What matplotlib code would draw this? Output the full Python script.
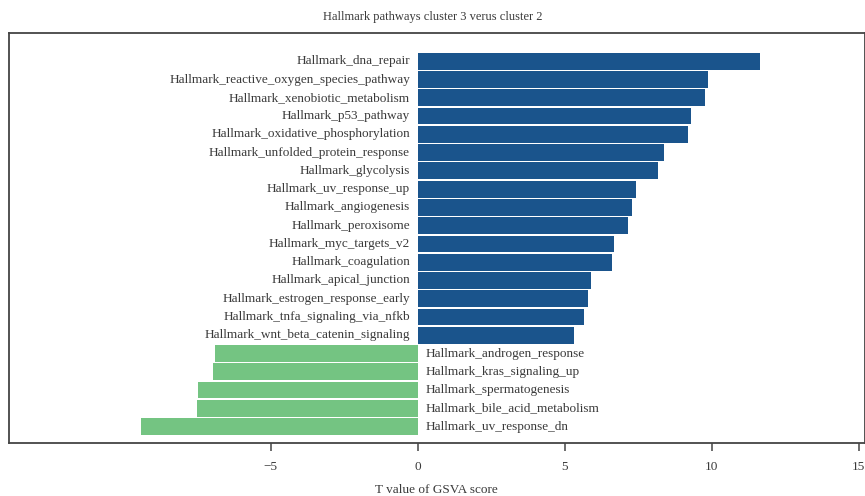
import numpy as np
import matplotlib
matplotlib.use("Agg")
import matplotlib.pyplot as plt

# GSVA t values, cluster 3 vs cluster 2
pathways = [
    "Hallmark_dna_repair",
    "Hallmark_reactive_oxygen_species_pathway",
    "Hallmark_xenobiotic_metabolism",
    "Hallmark_p53_pathway",
    "Hallmark_oxidative_phosphorylation",
    "Hallmark_unfolded_protein_response",
    "Hallmark_glycolysis",
    "Hallmark_uv_response_up",
    "Hallmark_angiogenesis",
    "Hallmark_peroxisome",
    "Hallmark_myc_targets_v2",
    "Hallmark_coagulation",
    "Hallmark_apical_junction",
    "Hallmark_estrogen_response_early",
    "Hallmark_tnfa_signaling_via_nfkb",
    "Hallmark_wnt_beta_catenin_signaling",
    "Hallmark_androgen_response",
    "Hallmark_kras_signaling_up",
    "Hallmark_spermatogenesis",
    "Hallmark_bile_acid_metabolism",
    "Hallmark_uv_response_dn",
]
t_values = [11.64, 9.87, 9.77, 9.30, 9.19, 8.38, 8.17, 7.43, 7.29, 7.16,
            6.68, 6.61, 5.90, 5.80, 5.66, 5.32,
            -6.89, -6.95, -7.46, -7.50, -9.40]
xticks = [-5, 0, 5, 10, 15]

plt.rcParams['font.family'] = ['Liberation Serif', 'DejaVu Serif']
txt_col = '#3a3a3a'

fig = plt.figure(figsize=(8.65, 4.96), dpi=100)
ax = fig.add_axes([9/865, 53/496, 855.5/865, 410/496])

y = np.arange(len(pathways))
vals = np.array(t_values)
colors = np.where(vals > 0, '#1a548c', '#74c482')
ax.barh(y, vals, height=0.92, color=colors)

# positive pathway names sit left of zero, negative ones to the right
for yi, name, v in zip(y, pathways, vals):
    if v > 0:
        ax.annotate(name, xy=(0, yi), xytext=(-5.5, 0), textcoords='offset points',
                    ha='right', va='center', fontsize=9.5, color=txt_col)
    else:
        ax.annotate(name, xy=(0, yi), xytext=(5.5, 0), textcoords='offset points',
                    ha='left', va='center', fontsize=9.5, color=txt_col)

ax.set_xlim(-13.9, 15.2)
ax.set_ylim(20.9, -1.55)
ax.set_yticks([])
ax.set_xticks(xticks)
ax.set_xticklabels(['\u22125', '0', '5', '10', '15'])
ax.tick_params(axis='x', length=6, width=1.1, color='#444444', labelsize=9.5,
               labelcolor=txt_col, pad=7)
for s in ax.spines.values():
    s.set_color('#444444')
    s.set_linewidth(1.3)

ax.set_xlabel('T value of GSVA score', fontsize=9.5, color=txt_col, labelpad=8)
fig.text(0.5, 1 - 17/496, 'Hallmark pathways cluster 3 verus cluster 2',
         ha='center', va='center', fontsize=9, color=txt_col)

fig.savefig('out.png', dpi=100)
